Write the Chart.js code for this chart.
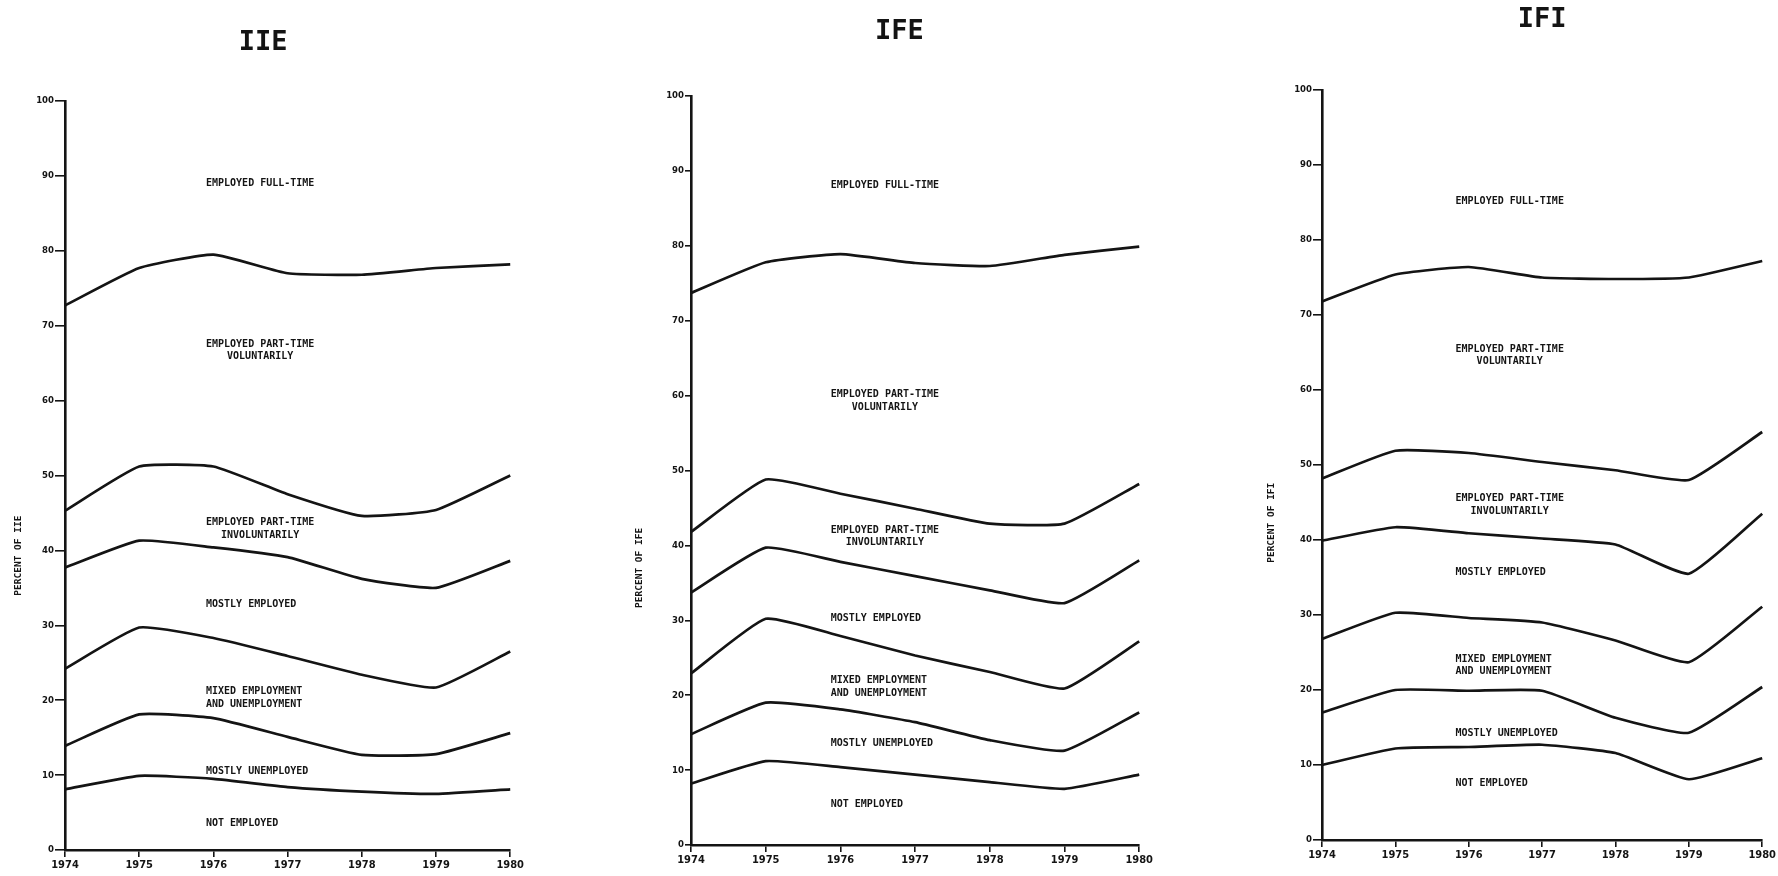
<!DOCTYPE html>
<html>
<head>
<meta charset="utf-8">
<script src="https://cdn.jsdelivr.net/npm/chart.js@4.4.1/dist/chart.umd.min.js"></script>
<style>
  html, body { margin: 0; padding: 0; background: #fff; }
  body { width: 1778px; height: 876px; position: relative; overflow: hidden; }
  canvas { position: absolute; top: 0; }
</style>
</head>
<body>
<canvas id="chartIIE" width="521" height="876" style="left:5px"></canvas>
<canvas id="chartIFE" width="524" height="876" style="left:631px"></canvas>
<canvas id="chartIFI" width="516" height="876" style="left:1262px"></canvas>
<script>
//////////////////// Data ////////////////////
////  each series is the lower edge of a band, top band first   ////
////////////////////////////////////////////////////////////////////
const years = ['1974', '1975', '1976', '1977', '1978', '1979', '1980'];

const iieFullTime    = [72.7, 77.7, 79.5, 77.0, 76.8, 77.7, 78.2];
const iieVoluntary   = [45.3, 51.2, 51.2, 47.5, 44.6, 45.4, 50.0];
const iieInvoluntary = [37.7, 41.3, 40.4, 39.1, 36.2, 35.0, 38.6];
const iieMostlyEmp   = [24.2, 29.7, 28.3, 25.9, 23.4, 21.7, 26.5];
const iieMixed       = [13.9, 18.1, 17.6, 15.1, 12.7, 12.8, 15.6];
const iieMostlyUnemp = [8.1, 9.9, 9.5, 8.4, 7.8, 7.5, 8.1];

const ifeFullTime    = [73.7, 77.8, 78.9, 77.7, 77.3, 78.8, 79.9];
const ifeVoluntary   = [41.8, 48.8, 46.9, 44.9, 42.9, 42.9, 48.2];
const ifeInvoluntary = [33.7, 39.7, 37.8, 35.9, 34.0, 32.3, 38.0];
const ifeMostlyEmp   = [22.9, 30.2, 27.9, 25.3, 23.1, 20.9, 27.2];
const ifeMixed       = [14.8, 19.0, 18.1, 16.4, 14.0, 12.6, 17.7];
const ifeMostlyUnemp = [8.2, 11.2, 10.4, 9.4, 8.4, 7.5, 9.4];

const ifiFullTime    = [71.8, 75.4, 76.4, 75.0, 74.8, 75.0, 77.2];
const ifiVoluntary   = [48.2, 51.9, 51.6, 50.4, 49.3, 48.0, 54.4];
const ifiInvoluntary = [39.9, 41.7, 40.9, 40.2, 39.4, 35.5, 43.5];
const ifiMostlyEmp   = [26.8, 30.3, 29.6, 29.0, 26.6, 23.7, 31.1];
const ifiMixed       = [17.0, 20.0, 19.9, 19.9, 16.3, 14.3, 20.4];
const ifiMostlyUnemp = [10.0, 12.2, 12.4, 12.7, 11.6, 8.1, 10.9];

const bandNames = [
  'EMPLOYED FULL-TIME',
  'EMPLOYED PART-TIME\nVOLUNTARILY',
  'EMPLOYED PART-TIME\nINVOLUNTARILY',
  'MOSTLY EMPLOYED',
  'MIXED EMPLOYMENT\nAND UNEMPLOYMENT',
  'MOSTLY UNEMPLOYED',
  'NOT EMPLOYED'
];
// where the band names sit (percent value of the label centre)
const iieLabelY = [89.0, 66.7, 42.9, 32.8, 20.3, 10.5, 3.6];
const ifeLabelY = [88.1, 59.3, 41.2, 30.3, 21.1, 13.6, 5.4];
const ifiLabelY = [85.2, 64.6, 44.7, 35.7, 23.3, 14.2, 7.5];
/////////////////////////////////////////////////////////////////////

const ink = '#141414';

///////////// Panel title, band names + rotated axis title ///////////////
const bandLabels = {
    id: 'bandLabels',
    afterDatasetsDraw(chart, args, opts) {
        const { ctx, chartArea, scales: { x, y } } = chart;
        ctx.save();
        ctx.fillStyle = ink;
        ctx.textBaseline = 'middle';
        ctx.textAlign = 'center';

        // panel title
        ctx.font = 'bold 27px "DejaVu Sans Mono"';
        ctx.fillText(opts.title, x.getPixelForValue(opts.titleX), chartArea.top - opts.titleRise);

        // band names: block starts at startX, lines centred inside it
        ctx.font = 'bold 10px "DejaVu Sans Mono"';
        opts.names.forEach((name, i) => {
            const lines = name.split('\n');
            const w = Math.max(...lines.map(l => ctx.measureText(l).width));
            const cx = x.getPixelForValue(opts.startX) + w / 2;
            const cy = y.getPixelForValue(opts.ys[i]) - (lines.length - 1) * 6.25;
            lines.forEach((l, k) => ctx.fillText(l, cx, cy + k * 12.5));
        });

        // axis title, reads bottom to top
        ctx.font = 'bold 9.5px "DejaVu Sans Mono"';
        ctx.translate(chartArea.left - opts.axisGap, y.getPixelForValue(opts.axisAt));
        ctx.rotate(-Math.PI / 2);
        ctx.fillText('PERCENT OF ' + opts.title, 0, 0);
        ctx.restore();
    }
};

//////////// One panel = one chart ////////////////
function makePanel(id, name, series, labelYs, geo) {
    const datasets = series.map(s => ({
        data: s,
        borderColor: ink,
        borderWidth: 2.7,
        pointRadius: 0,
        tension: 0.15,
        fill: false
    }));
    const tickFont = { family: '"DejaVu Sans Condensed"', weight: 'bold', size: 11 };
    return new Chart(document.getElementById(id), {
        type: 'line',
        data: { labels: years, datasets: datasets },
        options: {
            responsive: false,
            animation: false,
            layout: { padding: { left: 0, right: geo.padRight, top: geo.top, bottom: geo.padBottom } },
            plugins: {
                legend: { display: false },
                tooltip: { enabled: false },
                title: { display: false },
                bandLabels: {
                    title: name,
                    titleX: geo.titleX,
                    titleRise: geo.titleRise,
                    names: bandNames,
                    ys: labelYs,
                    startX: geo.startX,
                    axisAt: geo.axisAt,
                    axisGap: geo.axisGap
                }
            },
            scales: {
                x: {
                    type: 'category',
                    grid: { drawOnChartArea: false, drawTicks: true, tickLength: 7, color: ink, lineWidth: 1.6 },
                    border: { display: true, color: ink, width: 2.6 },
                    ticks: { color: ink, padding: 2, maxRotation: 0, autoSkip: false, font: tickFont },
                    afterFit(scale) { scale.height = 26; }
                },
                y: {
                    min: 0,
                    max: 100,
                    grid: { drawOnChartArea: false, drawTicks: true, tickLength: geo.tickLen, color: ink, lineWidth: 1.6 },
                    border: { display: true, color: ink, width: 2.6 },
                    ticks: {
                        stepSize: 10, color: ink, padding: 1,
                        font: { family: '"DejaVu Sans Condensed"', weight: 'bold', size: 9.5 }
                    },
                    afterFit(scale) { scale.width = 60; }
                }
            }
        },
        plugins: [bandLabels]
    });
}

///////////////// Build the three panels ///////////////////
makePanel('chartIIE', 'IIE',
    [iieFullTime, iieVoluntary, iieInvoluntary, iieMostlyEmp, iieMixed, iieMostlyUnemp],
    iieLabelY,
    { top: 101, padBottom: 0, padRight: 14, tickLen: 10, titleX: 2.67, titleRise: 58,
      startX: 1.90, axisAt: 39.3, axisGap: 46 });

makePanel('chartIFE', 'IFE',
    [ifeFullTime, ifeVoluntary, ifeInvoluntary, ifeMostlyEmp, ifeMixed, ifeMostlyUnemp],
    ifeLabelY,
    { top: 96, padBottom: 5, padRight: 14, tickLen: 6, titleX: 2.79, titleRise: 64,
      startX: 1.87, axisAt: 37.0, axisGap: 51 });

makePanel('chartIFI', 'IFI',
    [ifiFullTime, ifiVoluntary, ifiInvoluntary, ifiMostlyEmp, ifiMixed, ifiMostlyUnemp],
    ifiLabelY,
    { top: 90, padBottom: 10, padRight: 13, tickLen: 9, titleX: 3.0, titleRise: 70,
      startX: 1.82, axisAt: 42.3, axisGap: 50 });
/////////////////////////////////////////////////////////////
</script>
</body>
</html>
